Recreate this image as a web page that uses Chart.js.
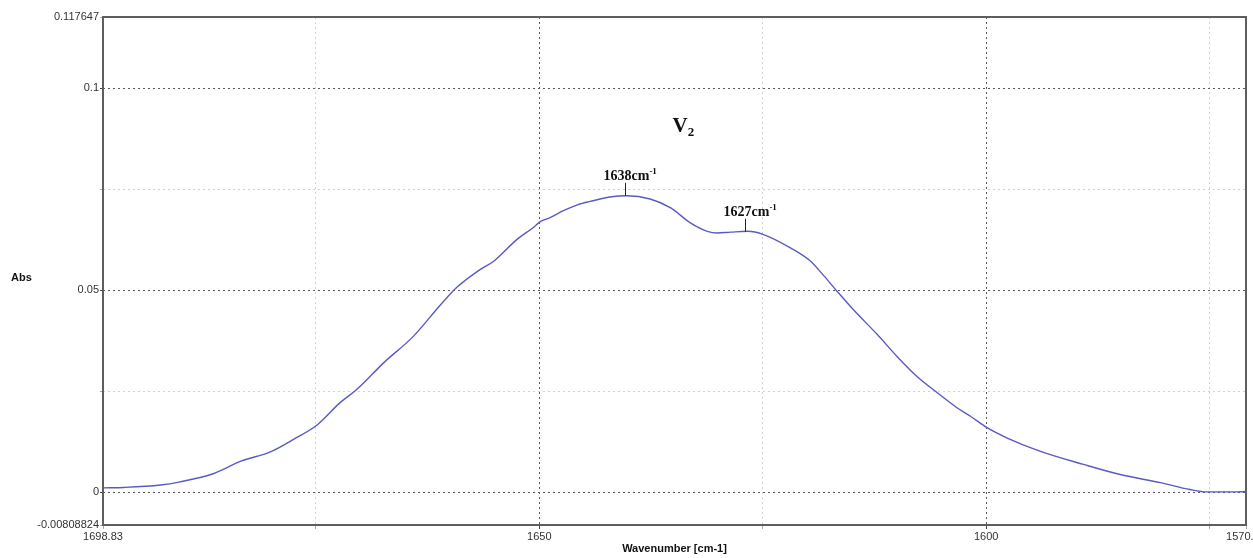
<!DOCTYPE html>
<html>
<head>
<meta charset="utf-8">
<script src="https://cdn.jsdelivr.net/npm/chart.js@4/dist/chart.umd.min.js"></script>
<style>
    html, body { margin: 0; padding: 0; background: #fff; overflow: hidden; }
    #wrap { width: 1253px; height: 558px; position: relative; }
</style>
</head>
<body>
<div id="wrap"><canvas id="grafico"></canvas></div>
<script>
// espectro V2 — absorbância x número de onda

const numeroOnda = [
    1698.83, 1696.5, 1692.4, 1690.2, 1686.5, 1683.4, 1680.1, 1677.5, 1674.8, 1672.3,
    1670.4, 1667.4, 1664.1, 1661.1, 1659.2, 1656.6, 1655.1, 1652.5, 1650.7, 1649.9,
    1648.8, 1647.3, 1645.8, 1644.3, 1642.1, 1640.2, 1637.6, 1635.3, 1633.1, 1631.2,
    1630.1, 1628.6, 1626.7, 1624.9, 1621.9, 1619.7, 1618.2, 1616.7, 1614.9, 1612.2,
    1610.0, 1607.8, 1605.5, 1603.3, 1601.8, 1599.9, 1597.7, 1594.0, 1589.1, 1585.0,
    1580.5, 1577.2, 1575.3, 1572.4, 1570.92
];
const absorbancia = [
    0.0011, 0.0012, 0.0018, 0.0026, 0.0046, 0.0077, 0.0100, 0.0131, 0.0168, 0.0222,
    0.0255, 0.0321, 0.0386, 0.0463, 0.0508, 0.0552, 0.0572, 0.0626, 0.0655, 0.0670,
    0.0680, 0.0697, 0.0711, 0.0720, 0.0731, 0.0734, 0.0726, 0.0704, 0.0667, 0.0646,
    0.0642, 0.0644, 0.0646, 0.0638, 0.0605, 0.0573, 0.0537, 0.0498, 0.0453, 0.0391,
    0.0337, 0.0288, 0.0247, 0.0210, 0.0189, 0.0160, 0.0135, 0.0102, 0.0069, 0.0044,
    0.0024, 0.0007, 0.0001, 0.0001, 0.0002
];

// eixos
const X_MIN = 1570.92;
const X_MAX = 1698.83;
const Y_MIN = -0.00808824;
const Y_MAX = 0.117647;
const xTicks       = [1698.83, 1675, 1650, 1625, 1600, 1575, 1570.92];
const xTickLabels  = ["1698.83", "", "1650", "", "1600", "", "1570.92"];
const xMajor       = [1650, 1600];
const yTicks       = [-0.00808824, 0, 0.025, 0.05, 0.075, 0.1, 0.117647];
const yTickLabels  = ["-0.00808824", "0", "", "0.05", "", "0.1", "0.117647"];
const yMajor       = [0, 0.05, 0.1];

// marcações dos picos
const picoPos    = [1640.4, 1627.0];
const picoAbs    = [0.0734, 0.0645];
const picoTexto  = ["1638cm", "1627cm"];
const titulo     = { texto: "V", sub: "2", x: 1635.1, y: 0.0892 };
const ABS_Y      = 0.0530;

// ===================== CORES =====================
const COR_LINHA   = "#5a5ac6";
const COR_GRID_F  = "#5a5a5a";
const COR_GRID_L  = "#d2d2d2";
const COR_BORDA   = "#5e5e5e";
const COR_TEXTO   = "#333";
const FONTE       = "'Liberation Sans', Arial, sans-serif";
const FONTE_SERIF = "'Liberation Serif', 'Times New Roman', serif";

function corGrid(lista, min, max) {
    return ctx => {
        const v = ctx.tick ? ctx.tick.value : null;
        if (v === null || v === min || v === max) return "rgba(0,0,0,0)";
        return lista.includes(v) ? COR_GRID_F : COR_GRID_L;
    };
}

const extras = {
    id: "extras",
    afterDatasetsDraw(chart) {
        const { ctx, chartArea: a, scales: { x, y } } = chart;
        ctx.save();

        // moldura
        ctx.strokeStyle = COR_BORDA;
        ctx.lineWidth = 2;
        ctx.strokeRect(a.left, a.top, a.right - a.left, a.bottom - a.top);

        // rótulo do eixo y
        ctx.fillStyle = "#111";
        ctx.font = "bold 11px " + FONTE;
        ctx.textAlign = "left";
        ctx.textBaseline = "middle";
        ctx.fillText("Abs", 11, y.getPixelForValue(ABS_Y));

        // V2
        const tx = x.getPixelForValue(titulo.x);
        const ty = y.getPixelForValue(titulo.y);
        ctx.fillStyle = "#111";
        ctx.textBaseline = "alphabetic";
        ctx.font = "bold 21px " + FONTE_SERIF;
        ctx.fillText(titulo.texto, tx, ty);
        const wV = ctx.measureText(titulo.texto).width;
        ctx.font = "bold 13px " + FONTE_SERIF;
        ctx.fillText(titulo.sub, tx + wV, ty + 4);

        // picos
        picoPos.forEach((p, i) => {
            const px = Math.round(x.getPixelForValue(p)) + 0.5;
            const py = y.getPixelForValue(picoAbs[i]);
            ctx.strokeStyle = "#222";
            ctx.lineWidth = 1;
            ctx.beginPath();
            ctx.moveTo(px, py);
            ctx.lineTo(px, py - 13);
            ctx.stroke();

            ctx.fillStyle = "#111";
            ctx.font = "bold 14px " + FONTE_SERIF;
            const base = py - 16;
            const x0 = px - 22;
            ctx.fillText(picoTexto[i], x0, base);
            const w = ctx.measureText(picoTexto[i]).width;
            ctx.font = "bold 9px " + FONTE_SERIF;
            ctx.fillText("-1", x0 + w, base - 6);
        });

        ctx.restore();
    }
};

new Chart(document.getElementById("grafico"), {
    type: "line",
    data: {
        datasets: [{
            data: numeroOnda.map((w, i) => ({ x: w, y: absorbancia[i] })),
            borderColor: COR_LINHA,
            borderWidth: 1.4,
            pointRadius: 0,
            fill: false,
            cubicInterpolationMode: "monotone",
        }],
    },
    options: {
        responsive: true,
        maintainAspectRatio: false,
        animation: false,
        layout: { padding: { top: 17, right: 7, left: 0, bottom: 0 } },
        plugins: {
            legend: { display: false },
            tooltip: { enabled: false },
        },
        scales: {
            x: {
                type: "linear",
                reverse: true,
                min: X_MIN,
                max: X_MAX,
                afterBuildTicks: s => { s.ticks = xTicks.map(v => ({ value: v })); },
                afterFit: s => { s.height = 33; s.paddingRight = 0; s.paddingLeft = 0; },
                ticks: {
                    autoSkip: false,
                    maxRotation: 0,
                    padding: 1,
                    color: COR_TEXTO,
                    font: { family: FONTE, size: 11 },
                    callback: v => xTickLabels[xTicks.indexOf(v)] ?? "",
                },
                grid: {
                    color: corGrid(xMajor, X_MIN, X_MAX),
                    tickColor: ctx => xMajor.includes(ctx.tick?.value) ? "#444" : "#aaa",
                    tickLength: 4,
                    lineWidth: 1,
                },
                border: { display: false, dash: [2, 3] },
                title: {
                    display: true,
                    text: "Wavenumber [cm-1]",
                    color: "#111",
                    font: { family: FONTE, size: 11, weight: "bold" },
                    padding: { top: 0, bottom: 2 },
                },
            },
            y: {
                min: Y_MIN,
                max: Y_MAX,
                afterBuildTicks: s => { s.ticks = yTicks.map(v => ({ value: v })); },
                afterFit: s => { s.width = 103; },
                ticks: {
                    autoSkip: false,
                    padding: 1,
                    color: COR_TEXTO,
                    font: { family: FONTE, size: 11 },
                    callback: v => yTickLabels[yTicks.indexOf(v)] ?? "",
                },
                grid: {
                    color: corGrid(yMajor, Y_MIN, Y_MAX),
                    tickColor: ctx => yMajor.includes(ctx.tick?.value) ? "#444" : "#aaa",
                    tickLength: 3,
                    lineWidth: 1,
                },
                border: { display: false, dash: [2, 3] },
            },
        },
    },
    plugins: [extras],
});
</script>
</body>
</html>
